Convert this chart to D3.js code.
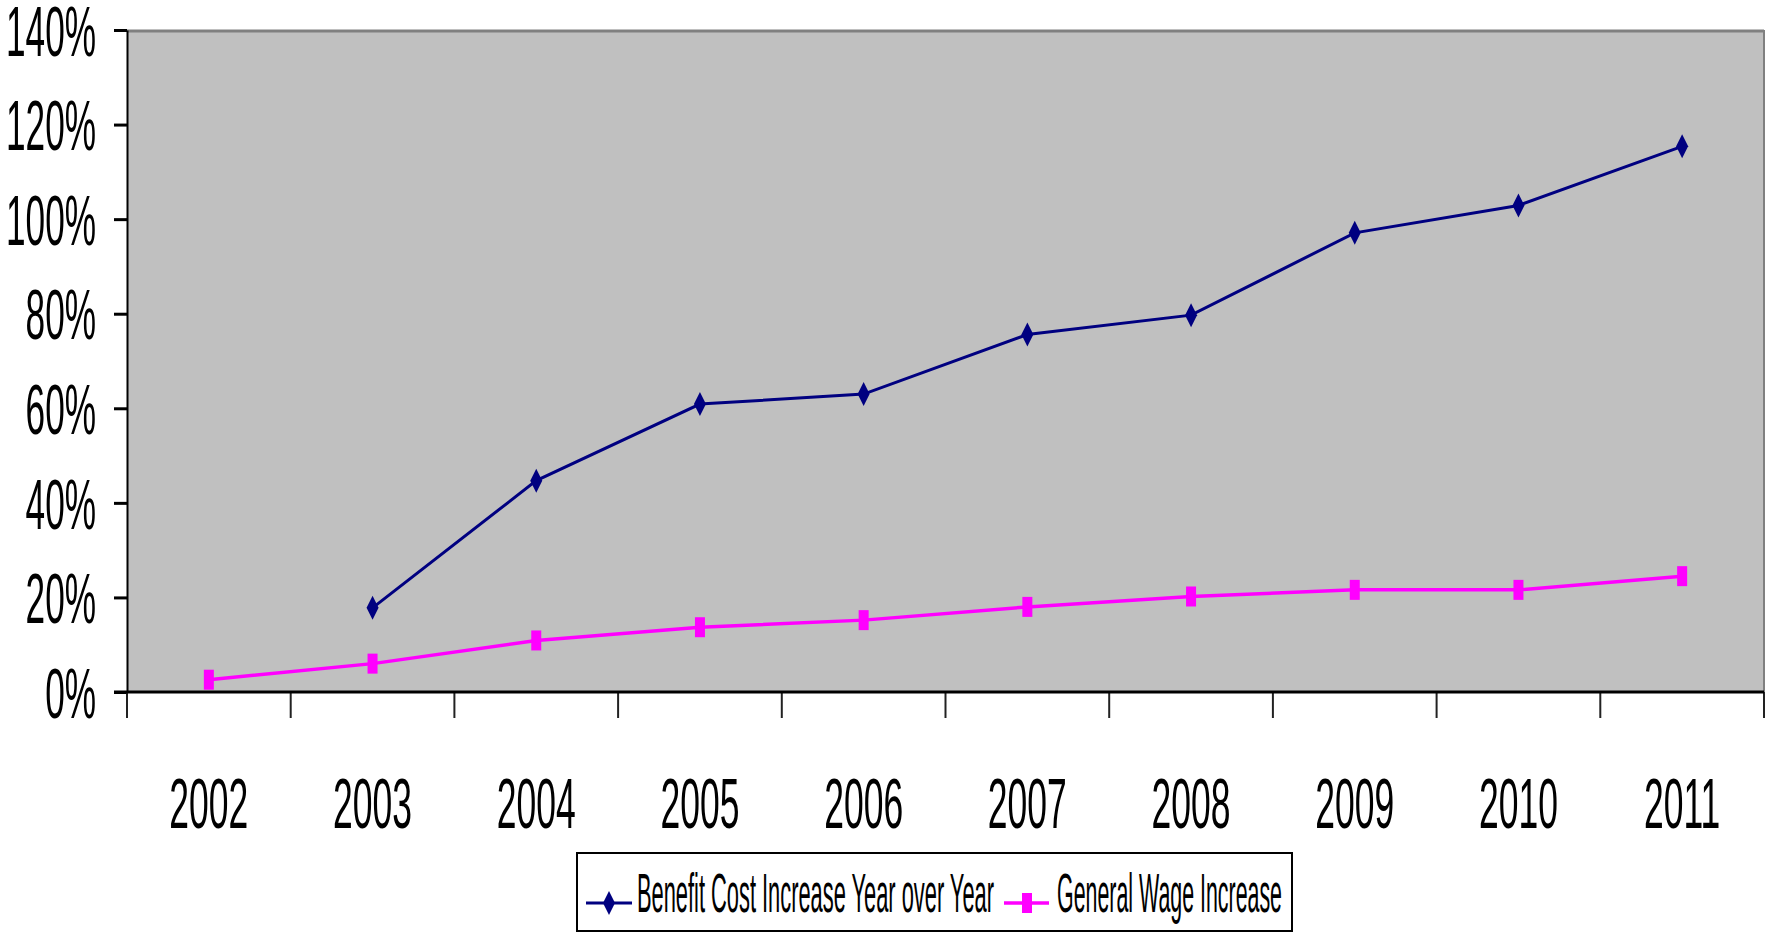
<!DOCTYPE html>
<html lang="en">
<head>
    <meta charset="UTF-8">
    <title>Benefit Cost vs Wage Increase</title>
    <script src="https://d3js.org/d3.v7.min.js"></script>
    <style>
        body { margin: 0; background: white; }
        text { font-family: "Liberation Sans Narrow", "Liberation Sans", Arial, sans-serif; fill: black; }
    </style>
</head>
<body>
    <svg id='svg'></svg>
    <script>
        const years = ['2002', '2003', '2004', '2005', '2006', '2007', '2008', '2009', '2010', '2011'];
        const benefitCost = [null, 17.8, 44.7, 60.9, 63.0, 75.6, 79.7, 97.1, 102.9, 115.4];
        const wageIncrease = [2.6, 6.0, 10.9, 13.7, 15.2, 18.0, 20.2, 21.6, 21.6, 24.5];
        const yTicks = [0, 20, 40, 60, 80, 100, 120, 140];
        const seriesNames = ['Benefit Cost Increase Year over Year', 'General Wage Increase'];

        const width = 1765;
        const height = 933;
        const plotLeft = 127, plotRight = 1764, plotTop = 30, plotBottom = 692;

        const svg = d3.select('#svg')
            .attr('width', width)
            .attr('height', height);

        const xScale = d3.scaleBand().domain(years).range([plotLeft, plotRight]);
        const yScale = d3.scaleLinear().domain([0, 140]).range([plotBottom, plotTop]);

        // squeeze text horizontally so the widest label gets maxWidth (narrow original font)
        function squeeze(sel, maxWidth) {
            let widest = 0;
            sel.each(function() { widest = Math.max(widest, this.getComputedTextLength()); });
            const k = maxWidth / widest;
            sel.each(function() {
                const len = this.getComputedTextLength();
                d3.select(this).attr('textLength', len * k).attr('lengthAdjust', 'spacingAndGlyphs');
            });
        }

        // plot area
        svg.append('rect')
            .attr('x', plotLeft).attr('y', plotTop)
            .attr('width', plotRight - plotLeft).attr('height', plotBottom - plotTop)
            .attr('fill', '#c0c0c0');
        svg.append('line')
            .attr('x1', plotLeft).attr('x2', plotRight).attr('y1', plotTop + 1).attr('y2', plotTop + 1)
            .attr('stroke', '#808080').attr('stroke-width', 3);
        svg.append('line')
            .attr('x1', plotRight).attr('x2', plotRight).attr('y1', plotTop).attr('y2', plotBottom)
            .attr('stroke', '#808080').attr('stroke-width', 2);

        // y axis
        const yAxis = d3.axisLeft(yScale).tickValues(yTicks).tickSize(13).tickSizeOuter(0).tickPadding(18)
            .tickFormat(d => d + '%');
        const gy = svg.append('g').attr('transform', `translate(${plotLeft},0)`).call(yAxis);
        gy.select('.domain').attr('stroke', 'black').attr('stroke-width', 2);
        gy.selectAll('.tick line').attr('stroke', 'black').attr('stroke-width', 3);
        gy.selectAll('.tick text').attr('font-size', 70).attr('dy', '0.36em');
        squeeze(gy.selectAll('.tick text'), 90);

        // x axis: ticks on category boundaries
        const boundaries = d3.range(years.length + 1).map(i => plotLeft + i * xScale.step());
        svg.selectAll('.xtick')
            .data(boundaries)
            .enter()
            .append('line')
            .attr('class', 'xtick')
            .attr('x1', d => d).attr('x2', d => d)
            .attr('y1', plotBottom).attr('y2', plotBottom + 26)
            .attr('stroke', '#222').attr('stroke-width', 2);
        svg.append('line')
            .attr('x1', plotLeft - 13).attr('x2', plotRight).attr('y1', plotBottom).attr('y2', plotBottom)
            .attr('stroke', 'black').attr('stroke-width', 3);
        const xl = svg.selectAll('.xlabel')
            .data(years)
            .enter()
            .append('text')
            .attr('class', 'xlabel')
            .attr('x', d => xScale(d) + xScale.bandwidth() / 2)
            .attr('y', 828)
            .attr('text-anchor', 'middle')
            .attr('font-size', 70)
            .text(d => d);
        squeeze(xl, 79);

        const cx = (d, i) => xScale(years[i]) + xScale.bandwidth() / 2;

        // lines
        const line = d3.line()
            .defined(d => d != null)
            .x((d, i) => cx(d, i))
            .y(d => yScale(d));

        svg.append('path')
            .datum(wageIncrease)
            .attr('d', line)
            .attr('fill', 'none')
            .attr('stroke', '#ff00ff')
            .attr('stroke-width', 3.5);
        svg.append('path')
            .datum(benefitCost)
            .attr('d', line)
            .attr('fill', 'none')
            .attr('stroke', '#000080')
            .attr('stroke-width', 3);

        const diamond = 'M0,-12L6,0L0,12L-6,0Z';

        svg.selectAll('.wage')
            .data(wageIncrease)
            .enter()
            .append('rect')
            .attr('class', 'wage')
            .attr('x', (d, i) => cx(d, i) - 5)
            .attr('y', d => yScale(d) - 10)
            .attr('width', 10).attr('height', 20)
            .attr('fill', '#ff00ff');

        svg.selectAll('.benefit')
            .data(benefitCost.map((v, i) => ({v, i})).filter(d => d.v != null))
            .enter()
            .append('path')
            .attr('class', 'benefit')
            .attr('d', diamond)
            .attr('transform', d => `translate(${cx(d.v, d.i)},${yScale(d.v)})`)
            .attr('fill', '#000080');

        // legend
        const lg = svg.append('g');
        lg.append('rect')
            .attr('x', 577).attr('y', 853)
            .attr('width', 715).attr('height', 78)
            .attr('fill', 'white').attr('stroke', 'black').attr('stroke-width', 2);
        const ly = 903;
        lg.append('line').attr('x1', 586).attr('x2', 632).attr('y1', ly).attr('y2', ly)
            .attr('stroke', '#000080').attr('stroke-width', 3);
        lg.append('path').attr('d', diamond).attr('transform', `translate(609,${ly})`).attr('fill', '#000080');
        lg.append('line').attr('x1', 1004).attr('x2', 1049).attr('y1', ly).attr('y2', ly)
            .attr('stroke', '#ff00ff').attr('stroke-width', 3.5);
        lg.append('rect').attr('x', 1022).attr('y', ly - 10).attr('width', 10).attr('height', 20).attr('fill', '#ff00ff');
        lg.append('text').attr('x', 637).attr('y', 912).attr('font-size', 55)
            .attr('textLength', 357).attr('lengthAdjust', 'spacingAndGlyphs')
            .text(seriesNames[0]);
        lg.append('text').attr('x', 1057).attr('y', 912).attr('font-size', 55)
            .attr('textLength', 225).attr('lengthAdjust', 'spacingAndGlyphs')
            .text(seriesNames[1]);
    </script>
</body>
</html>
